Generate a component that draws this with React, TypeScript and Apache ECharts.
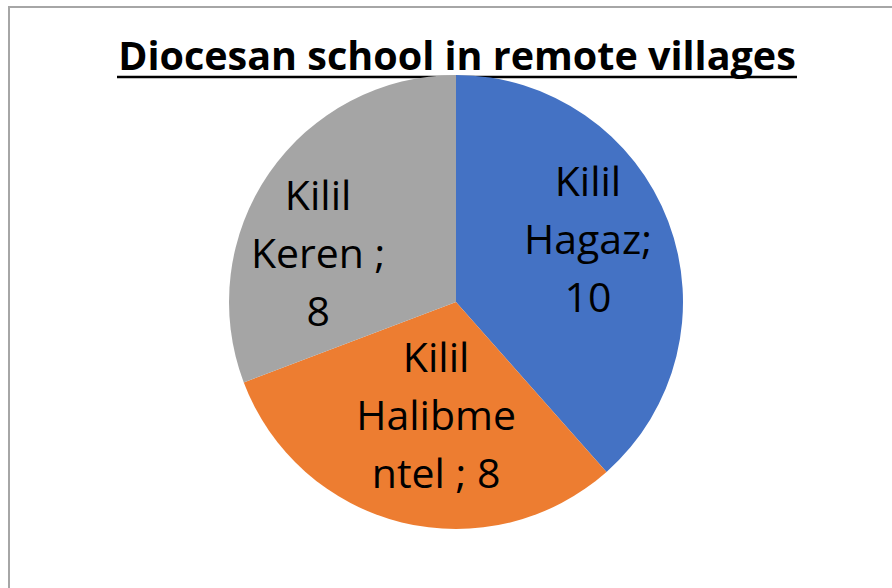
import React, { useEffect, useRef } from "react";
import * as echarts from "echarts";

const titleText = "Diocesan school in remote villages";
const categories = ["Kilil Hagaz", "Kilil Halibmentel ", "Kilil Keren "];
const values = [10, 8, 8];
const colors = ["#4472C4", "#ED7D31", "#A5A5A5"];
// wrapped label text, as shown in the picture
const labelTexts = ["Kilil\nHagaz;\n10", "Kilil\nHalibme\nntel ; 8", "Kilil\nKeren ;\n8"];
const labelOffsets = [[23, -23], [8, -1], [-42, 16]];

export default function App() {
  const ref = useRef<HTMLDivElement>(null);
  useEffect(() => {
    document.body.style.margin = "0";
    const chart = echarts.init(ref.current!, null, { renderer: "svg" });
    chart.setOption({
      animation: false,
      backgroundColor: "#ffffff",
      graphic: [
        { type: "line", shape: { x1: 8, y1: 7, x2: 892, y2: 7 }, style: { stroke: "#a6a6a6", lineWidth: 2 } },
        { type: "line", shape: { x1: 9, y1: 6, x2: 9, y2: 588 }, style: { stroke: "#a6a6a6", lineWidth: 2 } },
        {
          type: "text",
          x: 457,
          y: 55,
          style: {
            text: titleText,
            fontFamily: "Open Sans",
            fontWeight: "bold",
            fontSize: 39.5,
            fill: "#000000",
            textAlign: "center",
            textVerticalAlign: "middle",
          },
        },
        { type: "line", shape: { x1: 117, y1: 77, x2: 797, y2: 77 }, style: { stroke: "#000000", lineWidth: 2.5 } },
      ],
      series: [
        {
          type: "pie",
          center: [456, 302],
          radius: 227,
          startAngle: 90,
          clockwise: true,
          silent: true,
          avoidLabelOverlap: false,
          labelLayout: { hideOverlap: false },
          itemStyle: { borderWidth: 0 },
          label: {
            show: true,
            position: "inside",
            fontFamily: "Open Sans",
            fontSize: 41,
            lineHeight: 58,
            color: "#000000",
            align: "center",
          },
          labelLine: { show: false },
          data: categories.map((name, i) => ({
            name,
            value: values[i],
            itemStyle: { color: colors[i] },
            label: { formatter: labelTexts[i], offset: labelOffsets[i] },
          })),
        },
      ],
    });
    return () => chart.dispose();
  }, []);
  return <div ref={ref} style={{ width: 892, height: 588 }} />;
}
